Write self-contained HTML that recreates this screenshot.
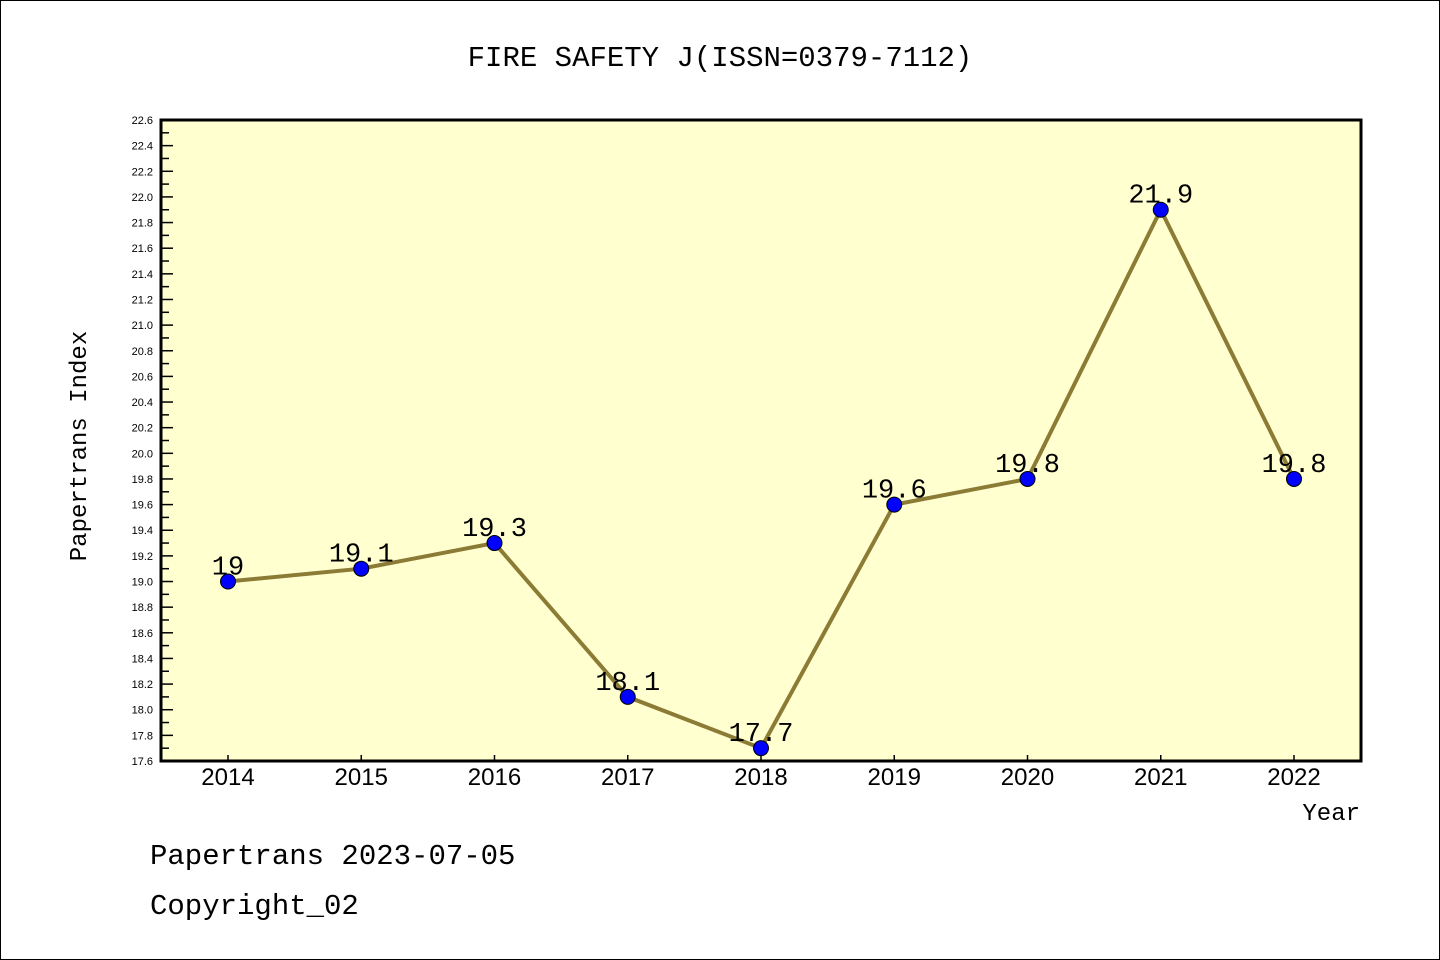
<!DOCTYPE html>
<html><head><meta charset="utf-8"><style>
body{margin:0;background:#fff}
svg{display:block;font-family:"Liberation Mono","Noto Sans CJK SC",monospace}
</style></head><body>
<svg id="chart" width="1440" height="960">
<rect x="0.5" y="0.5" width="1439" height="959" fill="#fff" stroke="#000"/>
<text x="720" y="66" font-size="29" text-anchor="middle">FIRE SAFETY J(ISSN=0379-7112)</text>
<rect x="161" y="120" width="1200" height="641" fill="#ffffd0"/>
<g id="axes"></g>
<g id="series"></g>
<rect x="161" y="120" width="1200" height="641" fill="none" stroke="#000" stroke-width="3"/>
<text x="86" y="446" font-size="24" text-anchor="middle" transform="rotate(-90 86 446)">Papertrans Index</text>
<text x="1360" y="820" font-size="24" text-anchor="end">Year</text>
<text x="150" y="864" font-size="29">Papertrans 2023-07-05</text>
<text x="150" y="914" font-size="29">Copyright_02</text>
</svg>
<script>
const years=[2014,2015,2016,2017,2018,2019,2020,2021,2022];
const values=[19.0,19.1,19.3,18.1,17.7,19.6,19.8,21.9,19.8];
const valueLabels=["19","19.1","19.3","18.1","17.7","19.6","19.8","21.9","19.8"];
const yMin=17.6,yMax=22.6;
const NS="http://www.w3.org/2000/svg";
const X=i=>228+i*(1294-228)/(years.length-1);
const Y=v=>761-(v-yMin)*(641/(yMax-yMin));
function mk(t,a,p){const e=document.createElementNS(NS,t);for(const k in a)e.setAttribute(k,a[k]);p.appendChild(e);return e;}
const ax=document.getElementById('axes'),se=document.getElementById('series');
for(let k=0;k<=50;k++){
  const v=yMin+k*0.1,y=Y(v),maj=k%2===0;
  const l=mk('line',{x1:161,x2:maj?173:169,y1:y,y2:y,stroke:'#000','stroke-width':1.5},ax);
  
  
  if(maj){const t=mk('text',{x:153,y:y+4,'font-size':11,'text-anchor':'end','font-family':'Liberation Sans, sans-serif'},ax);t.textContent=v.toFixed(1);
  
  }
}
years.forEach((yr,i)=>{
  const l=mk('line',{x1:X(i),x2:X(i),y1:761,y2:755,stroke:'#000','stroke-width':1.5},ax);
  
  
  const t=mk('text',{x:X(i),y:785,'font-size':24,'text-anchor':'middle','font-family':'Liberation Sans, sans-serif'},ax);t.textContent=yr;
  
  
});
const pl=mk('polyline',{points:values.map((v,i)=>X(i)+','+Y(v)).join(' '),fill:'none',stroke:'#8b7b35','stroke-width':4},se);


values.forEach((v,i)=>{
  const c=mk('circle',{cx:X(i),cy:Y(v),r:7.5,fill:'#0000ff',stroke:'#000','stroke-width':1},se);
  
  
  const t=mk('text',{x:X(i),y:Y(v)-7,'font-size':27,'text-anchor':'middle'},se);t.textContent=valueLabels[i];
  
  
});
</script>
</body></html>
